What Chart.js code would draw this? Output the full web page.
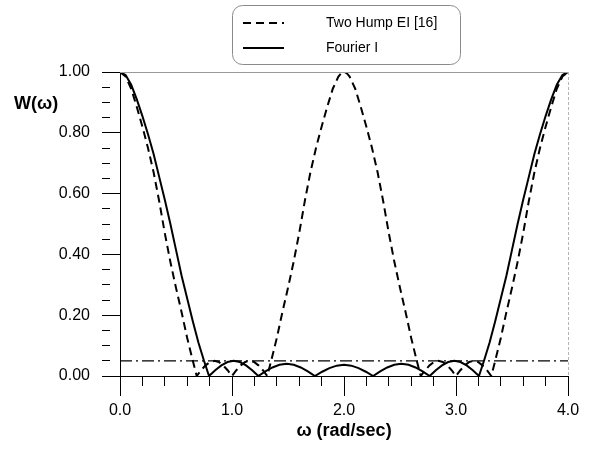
<!DOCTYPE html>
<html lang="en">
<head>
  <meta charset="UTF-8">
  <title>W(ω) – Two Hump EI vs Fourier I</title>
  <style>
    body { margin: 0; background: #fff; }
    canvas { display: block; }
  </style>
  <script src="https://cdn.jsdelivr.net/npm/chart.js"></script>
</head>
<body>
  <canvas id="chart" width="591" height="459"></canvas>

  <script>
    // Fourier I (solid line)
    const fourierOmega = [
      0, 0.05, 0.1, 0.15, 0.2, 0.25, 0.3, 0.35, 0.4, 0.45, 0.5, 0.55, 0.6, 0.65, 0.7, 0.75, 0.795,
      0.85, 0.905, 0.96, 1.015, 1.07, 1.125, 1.18, 1.235,
      1.298, 1.361, 1.424, 1.488, 1.551, 1.614, 1.677, 1.74,
      1.805, 1.87, 1.935, 2.0, 2.065, 2.13, 2.195, 2.26,
      2.323, 2.386, 2.449, 2.512, 2.576, 2.639, 2.702, 2.765,
      2.82, 2.875, 2.93, 2.985, 3.04, 3.095, 3.15, 3.205,
      3.25, 3.3, 3.35, 3.4, 3.45, 3.5, 3.55, 3.6, 3.65, 3.7, 3.75, 3.8, 3.85, 3.9, 3.95, 4.0
    ];
    const fourierW = [
      1.0, 0.99, 0.958, 0.91, 0.855, 0.795, 0.73, 0.655, 0.58, 0.5, 0.415, 0.33, 0.255, 0.18, 0.11, 0.05, 0,
      0.019, 0.035, 0.046, 0.05, 0.046, 0.035, 0.019, 0,
      0.015, 0.028, 0.037, 0.04, 0.037, 0.028, 0.015, 0,
      0.014, 0.026, 0.034, 0.037, 0.034, 0.026, 0.014, 0,
      0.015, 0.028, 0.037, 0.04, 0.037, 0.028, 0.015, 0,
      0.019, 0.035, 0.046, 0.05, 0.046, 0.035, 0.019, 0,
      0.05, 0.11, 0.18, 0.255, 0.33, 0.415, 0.5, 0.58, 0.655, 0.73, 0.795, 0.855, 0.91, 0.958, 0.99, 1.0
    ];

    // Two Hump EI [16] (dashed line)
    const twoHumpOmega = [
      0, 0.05, 0.1, 0.15, 0.2, 0.25, 0.3, 0.35, 0.4, 0.45, 0.5, 0.55, 0.6, 0.65, 0.685,
      0.724, 0.764, 0.803, 0.843, 0.882, 0.921, 0.961, 1.0,
      1.039, 1.079, 1.118, 1.157, 1.197, 1.236, 1.276, 1.315,
      1.35, 1.4, 1.45, 1.5, 1.55, 1.6, 1.65, 1.7, 1.75, 1.8, 1.85, 1.9, 1.95, 1.975, 2.0,
      2.025, 2.05, 2.1, 2.15, 2.2, 2.25, 2.3, 2.35, 2.4, 2.45, 2.5, 2.55, 2.6, 2.65, 2.685,
      2.724, 2.764, 2.803, 2.843, 2.882, 2.921, 2.961, 3.0,
      3.039, 3.079, 3.118, 3.157, 3.197, 3.236, 3.276, 3.315,
      3.35, 3.4, 3.45, 3.5, 3.55, 3.6, 3.65, 3.7, 3.75, 3.8, 3.85, 3.9, 3.95, 4.0
    ];
    const twoHumpW = [
      1.0, 0.985, 0.945, 0.885, 0.82, 0.75, 0.67, 0.575, 0.47, 0.375, 0.29, 0.21, 0.125, 0.05, 0,
      0.019, 0.035, 0.046, 0.05, 0.046, 0.035, 0.019, 0,
      0.019, 0.035, 0.046, 0.05, 0.046, 0.035, 0.019, 0,
      0.05, 0.125, 0.21, 0.29, 0.375, 0.47, 0.575, 0.67, 0.75, 0.82, 0.885, 0.945, 0.985, 0.996, 1.0,
      0.996, 0.985, 0.945, 0.885, 0.82, 0.75, 0.67, 0.575, 0.47, 0.375, 0.29, 0.21, 0.125, 0.05, 0,
      0.019, 0.035, 0.046, 0.05, 0.046, 0.035, 0.019, 0,
      0.019, 0.035, 0.046, 0.05, 0.046, 0.035, 0.019, 0,
      0.05, 0.125, 0.21, 0.29, 0.375, 0.47, 0.575, 0.67, 0.75, 0.82, 0.885, 0.945, 0.985, 1.0
    ];

    // 5% tolerance line (dash-dot)
    const tolOmega = [0, 4];
    const tolW = [0.05, 0.05];

    const seriesLabels = ['Two Hump EI [16]', 'Fourier I'];

    function toPoints(xs, ys) {
      return xs.map((x, i) => ({ x: x, y: ys[i] }));
    }

    function isMultiple(v, step) {
      const r = v / step;
      return Math.abs(r - Math.round(r)) < 1e-6;
    }

    const FONT = 'Arial, "Liberation Sans", sans-serif';

    // frame on top/right, y title and the boxed legend
    const extras = {
      id: 'extras',
      afterDraw(chart) {
        const ctx = chart.ctx;
        const a = chart.chartArea;
        ctx.save();

        ctx.strokeStyle = '#9a9a9a';
        ctx.lineWidth = 1;
        ctx.beginPath();
        ctx.moveTo(a.left, a.top + 0.5);
        ctx.lineTo(a.right, a.top + 0.5);
        ctx.stroke();
        ctx.setLineDash([3, 2]);
        ctx.strokeStyle = '#b5b5b5';
        ctx.beginPath();
        ctx.moveTo(a.right + 0.5, a.top);
        ctx.lineTo(a.right + 0.5, a.bottom);
        ctx.stroke();
        ctx.setLineDash([]);

        // y axis title
        ctx.fillStyle = '#000';
        ctx.font = 'bold 18px ' + FONT;
        ctx.textAlign = 'left';
        ctx.textBaseline = 'middle';
        ctx.fillText('W(ω)', 14, 104);

        // legend box
        const bx = 232, by = 5, bw = 228, bh = 59, r = 10;
        ctx.strokeStyle = '#8a8a8a';
        ctx.lineWidth = 1;
        ctx.beginPath();
        ctx.roundRect(bx + 0.5, by + 0.5, bw, bh, r);
        ctx.stroke();

        const rows = [23, 48];
        chart.data.datasets.slice(0, 2).forEach((ds, i) => {
          ctx.strokeStyle = '#000';
          ctx.lineWidth = 2;
          ctx.setLineDash(ds.borderDash || []);
          ctx.beginPath();
          ctx.moveTo(243, rows[i]);
          ctx.lineTo(284, rows[i]);
          ctx.stroke();
          ctx.setLineDash([]);
          ctx.fillStyle = '#000';
          ctx.font = '14px ' + FONT;
          ctx.fillText(ds.label, 326, rows[i]);
        });
        ctx.restore();
      }
    };

    new Chart(document.getElementById('chart'), {
      type: 'line',
      data: {
        datasets: [
          {
            label: seriesLabels[0],
            data: toPoints(twoHumpOmega, twoHumpW),
            borderColor: '#000',
            borderWidth: 2,
            borderDash: [8, 5],
            pointRadius: 0,
            tension: 0,
            fill: false
          },
          {
            label: seriesLabels[1],
            data: toPoints(fourierOmega, fourierW),
            borderColor: '#000',
            borderWidth: 2,
            pointRadius: 0,
            tension: 0,
            fill: false
          },
          {
            label: 'tolerance',
            data: toPoints(tolOmega, tolW),
            borderColor: '#000',
            borderWidth: 1.2,
            borderDash: [12, 4, 2, 4],
            pointRadius: 0,
            fill: false
          }
        ]
      },
      options: {
        responsive: false,
        animation: false,
        devicePixelRatio: 1,
        layout: { padding: { top: 72, right: 23, left: 0, bottom: 0 } },
        plugins: {
          legend: { display: false },
          tooltip: { enabled: false }
        },
        scales: {
          x: {
            type: 'linear',
            min: 0,
            max: 4,
            afterFit: s => { s.height = 83; },
            border: { color: '#000', width: 1 },
            grid: {
              drawOnChartArea: false,
              tickLength: 20,
              tickColor: '#000',
              tickBorderDash: c => isMultiple(c.tick.value, 1) ? [] : [9, 40]
            },
            ticks: {
              stepSize: 0.2,
              maxTicksLimit: 100,
              autoSkip: false,
              maxRotation: 0,
              padding: 5,
              color: '#000',
              font: { family: FONT, size: 16 },
              callback: v => isMultiple(v, 1) ? v.toFixed(1) : ''
            },
            title: {
              display: true,
              text: 'ω (rad/sec)',
              color: '#000',
              font: { family: FONT, size: 18, weight: 'bold' },
              padding: { top: 0, bottom: 17 }
            }
          },
          y: {
            min: 0,
            max: 1,
            afterFit: s => { s.width = 120; },
            border: { color: '#000', width: 1 },
            grid: {
              drawOnChartArea: false,
              tickLength: 18,
              tickColor: '#000',
              tickBorderDash: c => isMultiple(c.tick.value, 0.2) ? [] : [8, 40]
            },
            ticks: {
              stepSize: 0.05,
              maxTicksLimit: 100,
              autoSkip: false,
              padding: 12,
              color: '#000',
              font: { family: FONT, size: 16 },
              callback: v => isMultiple(v, 0.2) ? v.toFixed(2) : ''
            }
          }
        }
      },
      plugins: [extras]
    });
  </script>
</body>
</html>
